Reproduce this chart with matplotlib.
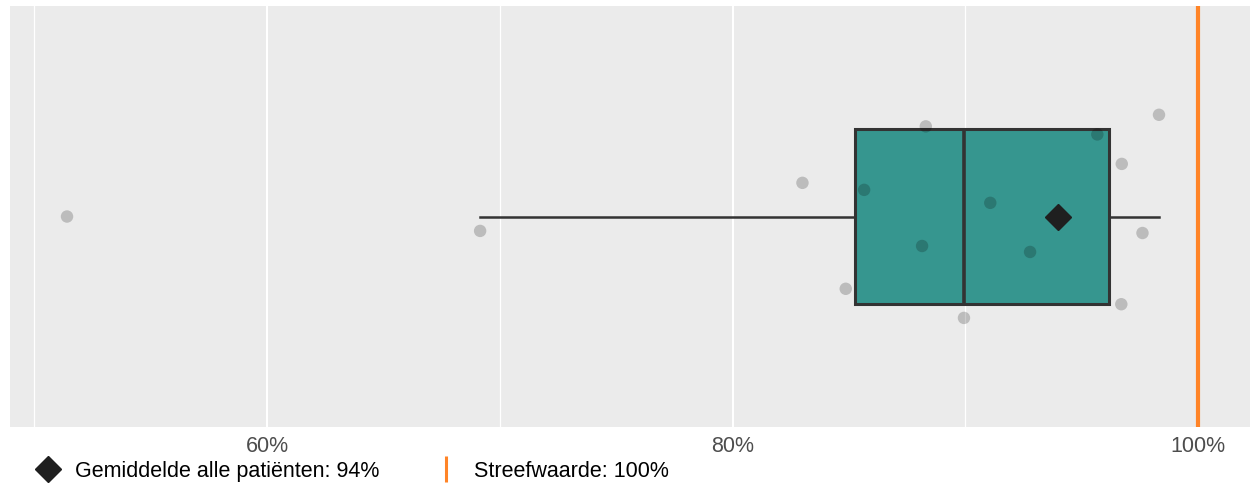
import matplotlib.pyplot as plt
import numpy as np
from matplotlib.lines import Line2D

plt.rcParams['font.family'] = ['Liberation Sans', 'DejaVu Sans']

# percentages per unit
values = [51.4, 69.15, 83.0, 84.86, 85.65, 88.14, 88.3, 89.94,
          91.07, 92.78, 95.67, 96.7, 96.72, 97.61, 98.32]
# vertical jitter of each point around the box centre
jitter = [0.0, -0.041, 0.096, -0.206, 0.076, -0.084, 0.257, -0.289,
          0.039, -0.101, 0.234, -0.25, 0.15, -0.047, 0.29]
mean_all = 94
target = 100
ticks = [50, 60, 70, 80, 90, 100]
tick_labels = ['', '60%', '', '80%', '', '100%']

fig = plt.figure(figsize=(12.5, 4.85), dpi=100)
ax = fig.add_axes([0.008, 0.1175, 0.992, 0.868])
ax.set_facecolor('#EBEBEB')

# grid (major at labelled ticks, thinner lines in between)
for t, lab in zip(ticks, tick_labels):
    ax.axvline(t, color='white', lw=1.5 if lab else 0.9, zorder=0)

ax.boxplot([values], positions=[1], vert=False, widths=0.5,
           whis=1.5, showfliers=False, patch_artist=True,
           boxprops=dict(facecolor='#36968F', edgecolor='#333333', linewidth=2.2),
           medianprops=dict(color='#333333', linewidth=2.6),
           whiskerprops=dict(color='#333333', linewidth=1.8),
           capprops=dict(linewidth=0), zorder=2)

ax.scatter(values, 1 + np.array(jitter), s=80, color='black',
           alpha=0.2, edgecolors='none', zorder=3)

ax.plot([mean_all], [1], marker='D', ms=13, color='#1F1F1F', ls='none', zorder=4)
ax.axvline(target, color='#FF8427', lw=3, zorder=1)

ax.set_xlim(48.95, 102.23)
ax.set_ylim(0.4, 1.6)
ax.set_yticks([])
ax.set_xticks(ticks)
ax.set_xticklabels(tick_labels, color='#4D4D4D', fontsize=15.5)
ax.tick_params(axis='x', length=0, pad=6)
for s in ax.spines.values():
    s.set_visible(False)

handles = [Line2D([], [], marker='D', ls='none', color='#1F1F1F', ms=13),
           Line2D([], [], marker='|', ls='none', color='#FF8427', ms=18.5, mew=2.2)]
labels = ['Gemiddelde alle patiënten: %d%%' % mean_all,
          'Streefwaarde: %d%%' % target]
fig.legend(handles, labels, loc='center left', bbox_to_anchor=(0.0277, 0.027),
           ncol=2, frameon=False, fontsize=15.5, handlelength=1.2,
           handletextpad=0.68, columnspacing=2.5, borderpad=0, borderaxespad=0)

fig.savefig('out.png', dpi=100)
